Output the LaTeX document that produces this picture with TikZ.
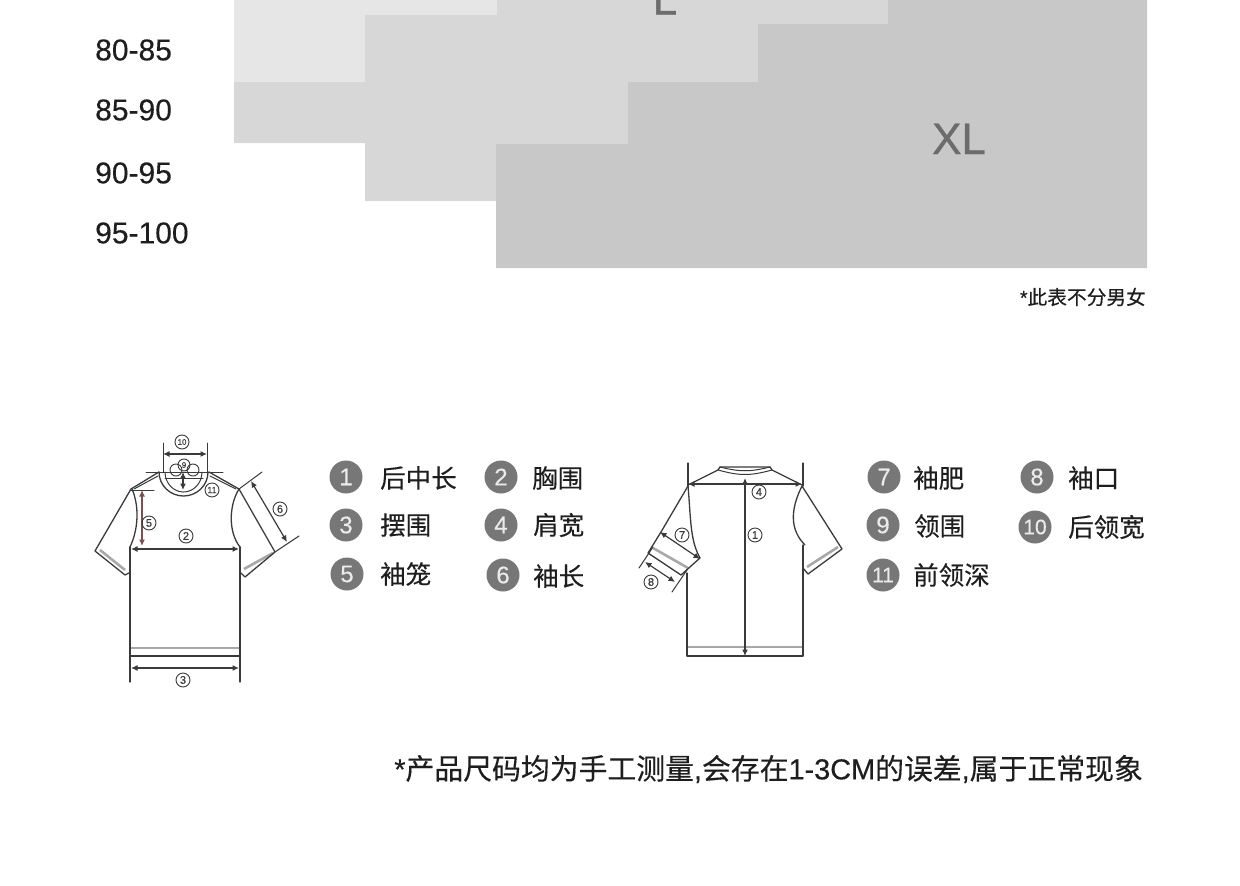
\documentclass[tikz,border=0pt]{standalone}
\usepackage{fontspec}
\setmainfont{Liberation Sans}[FakeBold=0.35]
\newfontfamily\cjk{Noto Sans CJK SC}[FakeBold=0.3]
\newfontfamily\heavy{Liberation Sans}[FakeBold=0.9]
\usetikzlibrary{arrows.meta}
\definecolor{lightg}{HTML}{E6E6E6}
\definecolor{midg}{HTML}{D7D7D7}
\definecolor{darkg}{HTML}{C8C8C8}
\definecolor{ink}{HTML}{1E1E1E}
\definecolor{shirt}{HTML}{3A3A3A}
\definecolor{badge}{HTML}{777777}
\definecolor{sizeg}{HTML}{6C6C6C}
\definecolor{seam}{HTML}{A8A8A8}
\definecolor{redline}{HTML}{7A5050}
\newcommand{\fs}[1]{\fontsize{#1}{#1}\selectfont}
\tikzset{
  x=1pt,y=-1pt,
  rangelab/.style={anchor=west,inner sep=0,text=ink,font=\fs{30}},
  sizelab/.style={inner sep=0,text=sizeg,font=\heavy\fs{44}},
  numbadge/.style={circle,fill=badge,text=white!92!black,minimum size=33pt,inner sep=0,font=\fs{24}},
  dbl/.style={font=\fs{21}},
  legend/.style={anchor=west,inner sep=0,text=ink,font=\cjk\fs{25.5}},
  note/.style={anchor=east,inner sep=0,text=ink},
  outline/.style={draw=shirt,line width=1.3pt,line join=round,line cap=round},
  thin outline/.style={draw=shirt,line width=1pt,line cap=round},
  band/.style={draw=seam,line width=2.6pt},
  dim/.style={draw=shirt,line width=1.2pt,{Latex[length=6.5pt,width=6pt]}-{Latex[length=6.5pt,width=6pt]}},
  tiny/.style={circle,draw=shirt,line width=.9pt,minimum size=14pt,inner sep=0,text=shirt,font=\fs{11}},
  tinier/.style={circle,draw=shirt,line width=.9pt,minimum size=12pt,inner sep=0,text=shirt,font=\fs{8}},
}
\begin{document}
\begin{tikzpicture}
\useasboundingbox (0,0) rectangle (1240,886);
\clip (0,0) rectangle (1240,886);
% staircase
\fill[lightg] (234,0) rectangle (497,15) (234,15) rectangle (365,82);
\fill[midg] (497,0) -- (888,0) -- (888,24) -- (758,24) -- (758,82) -- (628,82) -- (628,144) -- (497,144) -- (497,201) -- (365,201) -- (365,143) -- (234,143) -- (234,82) -- (365,82) -- (365,15) -- (497,15) -- cycle;
\fill[darkg] (888,0) -- (1147,0) -- (1147,268) -- (496,268) -- (496,144) -- (628,144) -- (628,82) -- (758,82) -- (758,24) -- (888,24) -- cycle;
\node[sizelab,anchor=base] (sizeL) at (665,14.5) {L};
\node[sizelab,anchor=base] (sizeXL) at (959,154) {XL};
\node[rangelab] (r1) at (95,50) {80-85};
\node[rangelab] (r2) at (95,110) {85-90};
\node[rangelab] (r3) at (95,173) {90-95};
\node[rangelab] (r4) at (95,233) {95-100};
\node[note,font=\fs{19.7}] (n1) at (1146,297) {*{\cjk 此表不分男女}};
% legend left
\node[numbadge] (b1) at (346,477) {1};
\node[numbadge] (b2) at (501,477) {2};
\node[numbadge] (b3) at (346,525) {3};
\node[numbadge] (b4) at (501,525) {4};
\node[numbadge] (b5) at (347,574) {5};
\node[numbadge] (b6) at (503,575) {6};
\node[legend] (t1) at (380,478) {后中长};
\node[legend] (t2) at (532,478) {胸围};
\node[legend] (t3) at (380,525) {摆围};
\node[legend] (t4) at (533,525) {肩宽};
\node[legend] (t5) at (380,574) {袖笼};
\node[legend] (t6) at (533,576) {袖长};
% legend right
\node[numbadge] (b7) at (884,477) {7};
\node[numbadge] (b8) at (1037,477) {8};
\node[numbadge] (b9) at (883,525) {9};
\node[numbadge,dbl] (b10) at (1035,527) {10};
\node[numbadge,dbl] (b11) at (883,575) {11};
\node[legend] (t7) at (913,478) {袖肥};
\node[legend] (t8) at (1068,478) {袖口};
\node[legend] (t9) at (914,526) {领围};
\node[legend] (t10) at (1068,527) {后领宽};
\node[legend] (t11) at (913,575) {前领深};
\node[note,font=\fs{28.85}] (n2) at (1143,769) {*{\cjk 产品尺码均为手工测量},{\cjk 会存在}1-3CM{\cjk 的误差},{\cjk 属于正常现象}};

% ---- left shirt
\draw[band] (130,648) -- (240,648);
\draw[band] (100,550) -- (125,570);
\draw[band] (273,553) -- (244,569);
\draw[outline] (130,547) -- (130,682) (240,547) -- (240,682);
\draw[outline,line width=1.8pt] (130,656) -- (240,656);
\draw[outline] (159,472) -- (131,489) -- (95,551) -- (125,575) -- (129,573);
\draw[outline] (209,472) -- (239,489) -- (275,552) -- (245,577) -- (241,573);
\draw[thin outline] (158,476) -- (134,489) (210,476) -- (236,489);
\draw[outline] (132,489) .. controls (139,505) and (139,528) .. (130,547);
\draw[outline] (239,489) .. controls (229,505) and (228,532) .. (240,547);
\draw[thin outline] (146,472) -- (223,472);
\draw[outline] (159,472) arc[start angle=180,end angle=0,x radius=24.5,y radius=24];
\draw[thin outline] (165,472) arc[start angle=180,end angle=0,x radius=18.5,y radius=20];
\draw[thin outline] (165,478) -- (203,478);
\draw[thin outline] (163,443) -- (163,472) (207,443) -- (207,472);
\coordinate (p10a) at (163,454); \coordinate (p10b) at (207,454);
\draw[dim] (p10a) -- (p10b);
\coordinate (p11a) at (183,472); \coordinate (p11b) at (183,490);
\draw[dim] (p11a) -- (p11b);
\node[tiny,font=\fs{8}] (m10) at (182,442) {10};
\node[tinier] (c9a) at (176,470) {};
\node[tinier] (c9b) at (193,470) {};
\node[tinier] (m9) at (184,465) {9};
\node[tiny,font=\fs{9}] (m11) at (212,490) {11};
% 6
\coordinate (e6a) at (239,489); \coordinate (e6b) at (262,472);
\coordinate (e6c) at (275,552); \coordinate (e6d) at (299,536);
\draw[thin outline] (e6a) -- (e6b) (e6c) -- (e6d);
\coordinate (p6a) at (251,481); \coordinate (p6b) at (287,542);
\draw[dim] (p6a) -- (p6b);
\node[tiny] (m6) at (280,509) {6};
% 5
\coordinate (t5a) at (131,490); \coordinate (t5b) at (154,490);
\draw[thin outline] (t5a) -- (t5b);
\coordinate (p5a) at (142,490); \coordinate (p5b) at (142,546);
\draw[dim,draw=redline] (p5a) -- (p5b);
\node[tiny] (m5) at (149,523) {5};
% 2
\coordinate (p2a) at (131,549); \coordinate (p2b) at (239,549);
\draw[dim] (p2a) -- (p2b);
\node[tiny] (m2) at (186,536) {2};
% 3
\coordinate (p3a) at (131,668); \coordinate (p3b) at (239,668);
\draw[dim] (p3a) -- (p3b);
\node[tiny] (m3) at (183,680) {3};

% ---- right shirt
\draw[band] (687,647) -- (803,647);
\draw[band] (653,548) -- (688,568);
\draw[band] (838,547) -- (807,567);
\draw[outline] (688,463) -- (688,486);
\draw[outline] (803,463) -- (803,486);
\draw[outline] (687,573) -- (687,656) -- (803,656) -- (803,545);
\draw[outline] (688,485) -- (718,470) -- (720,467) -- (770,467) -- (772,470) -- (802,485);
\draw[thin outline] (718,470) .. controls (740,476) and (750,476) .. (772,470);
\draw[thin outline] (720,467) .. controls (740,472) and (750,472) .. (770,467);
% left sleeve
\draw[outline] (688,486) -- (661,532) -- (648,553) -- (681,575) -- (700,558);
\draw[outline] (688,486) .. controls (691,520) and (690,540) .. (700,558);
% 8
\coordinate (e8a) at (639,568); \coordinate (e8b) at (653,547);
\coordinate (e8c) at (672,592); \coordinate (e8d) at (687,570);
\draw[thin outline] (e8a) -- (e8b) (e8c) -- (e8d);
\coordinate (p8a) at (645,562); \coordinate (p8b) at (675,582);
\draw[dim] (p8a) -- (p8b);
\node[tiny] (m8) at (651,582) {8};
% 7
\coordinate (p7a) at (660,532); \coordinate (p7b) at (700,559);
\draw[dim] (p7a) -- (p7b);
\node[tiny] (m7) at (682,535) {7};
% right sleeve
\draw[outline] (802,486) .. controls (790,510) and (790,530) .. (805,545);
\draw[outline] (802,486) -- (842,549) -- (808,574) -- (803,568);
% 1
\coordinate (p1a) at (745,478); \coordinate (p1b) at (745,656);
\draw[dim] (p1a) -- (p1b);
\node[tiny] (m1) at (755,535) {1};
% 4
\coordinate (p4a) at (688,484); \coordinate (p4b) at (802,484);
\draw[dim] (p4a) -- (p4b);
\node[tiny] (m4) at (759,492) {4};
\end{tikzpicture}
\end{document}
